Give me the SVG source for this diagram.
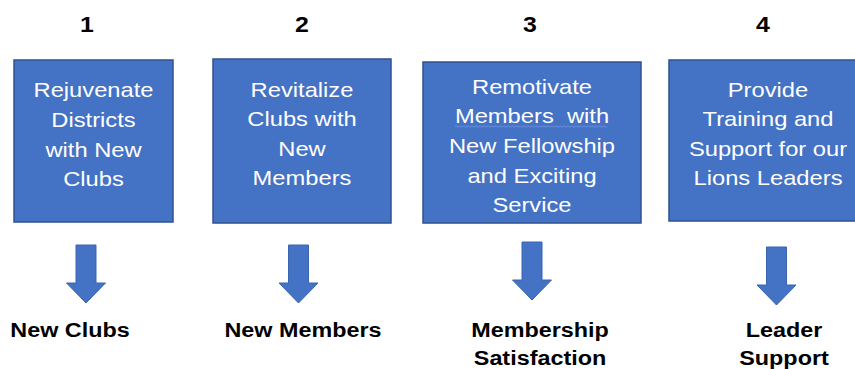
<svg xmlns="http://www.w3.org/2000/svg" width="855" height="369" viewBox="0 0 855 369">
<style>
.box{fill:#4472C4;stroke:#2F528F;stroke-width:1.5}
.bt{font-family:"Liberation Sans",Arial,sans-serif;font-size:21px;fill:#ffffff;text-anchor:middle}
.num{font-family:"Liberation Sans",Arial,sans-serif;font-size:22px;font-weight:bold;fill:#000;text-anchor:middle}
.lab{font-family:"Liberation Sans",Arial,sans-serif;font-size:20.5px;font-weight:bold;fill:#000;text-anchor:middle}
.arr{fill:#4472C4;stroke:#3A64B0;stroke-width:1}
</style>
<defs>
<polygon id="arrow" points="-10,0 10,0 10,38 19.5,38 0,58 -19.5,38 -10,38"/>
</defs>
<rect width="855" height="369" fill="#ffffff"/>
<g id="num1"><text class="num" transform="translate(87,32) scale(1.13,1)">1</text></g>
<g id="num2"><text class="num" transform="translate(302,32) scale(1.13,1)">2</text></g>
<g id="num3"><text class="num" transform="translate(530,32) scale(1.13,1)">3</text></g>
<g id="num4"><text class="num" transform="translate(763,32) scale(1.13,1)">4</text></g>
<g id="box1">
<rect class="box" x="14" y="60" width="159" height="162"/>
<g transform="translate(93.5,0) scale(1.13,1)"><text class="bt"><tspan x="0" y="97">Rejuvenate</tspan><tspan x="0" y="127">Districts</tspan><tspan x="0" y="157">with New</tspan><tspan x="0" y="186">Clubs</tspan></text></g>
</g>
<g id="box2">
<rect class="box" x="213" y="59" width="178" height="164"/>
<g transform="translate(302,0) scale(1.13,1)"><text class="bt"><tspan x="0" y="97">Revitalize</tspan><tspan x="0" y="126">Clubs with</tspan><tspan x="0" y="156">New</tspan><tspan x="0" y="185">Members</tspan></text></g>
</g>
<g id="box3">
<rect class="box" x="423" y="62" width="218" height="161"/>
<g transform="translate(532,0) scale(1.13,1)"><text class="bt" xml:space="preserve"><tspan x="0" y="94">Remotivate</tspan><tspan x="0" y="123">Members  with</tspan><tspan x="0" y="153">New Fellowship</tspan><tspan x="0" y="183">and Exciting</tspan><tspan x="0" y="212">Service</tspan></text></g>
<path d="M455 126.5 q1 -1.6 2 0 t2 0 t2 0 t2 0 t2 0 t2 0 t2 0 t2 0 t2 0 t2 0 t2 0 t2 0 t2 0 t2 0 t2 0 t2 0 t2 0 t2 0 t2 0 t2 0 t2 0 t2 0 t2 0 t2 0 t2 0 t2 0 t2 0 t2 0 t2 0 t2 0 t2 0 t2 0 t2 0 t2 0 t2 0 t2 0 t2 0 t2 0 t2 0 t2 0 t2 0 t2 0 t2 0 t2 0 t2 0 t2 0 t2 0 t2 0 t2 0 t2 0 t2 0 t2 0 t2 0 t2 0 t2 0 t2 0 t2 0 t2 0 t2 0 t2 0 t2 0 t2 0 t2 0 t2 0 t2 0 t2 0 t2 0 t2 0 t2 0 t2 0 t2 0 t2 0 t2 0 t2 0 t2 0 t2 0" fill="none" stroke="#6f8fe0" stroke-width="1"/>
</g>
<g id="box4">
<rect class="box" x="669" y="60" width="200" height="161"/>
<g transform="translate(768,0) scale(1.13,1)"><text class="bt"><tspan x="0" y="97">Provide</tspan><tspan x="0" y="126">Training and</tspan><tspan x="0" y="156">Support for our</tspan><tspan x="0" y="185">Lions Leaders</tspan></text></g>
</g>
<g id="connectors">
<use href="#arrow" class="arr" transform="translate(86,245)"/>
<use href="#arrow" class="arr" transform="translate(298.5,245)"/>
<use href="#arrow" class="arr" transform="translate(532,242)"/>
<use href="#arrow" class="arr" transform="translate(776.5,247)"/>
</g>
<g id="out1"><text class="lab" transform="translate(70,337) scale(1.14,1)">New Clubs</text></g>
<g id="out2"><text class="lab" transform="translate(303,337) scale(1.14,1)">New Members</text></g>
<g id="out3"><g transform="translate(540,0) scale(1.14,1)"><text class="lab"><tspan x="0" y="337">Membership</tspan><tspan x="0" y="365">Satisfaction</tspan></text></g></g>
<g id="out4"><g transform="translate(784,0) scale(1.14,1)"><text class="lab"><tspan x="0" y="337">Leader</tspan><tspan x="0" y="365">Support</tspan></text></g></g>
</svg>
